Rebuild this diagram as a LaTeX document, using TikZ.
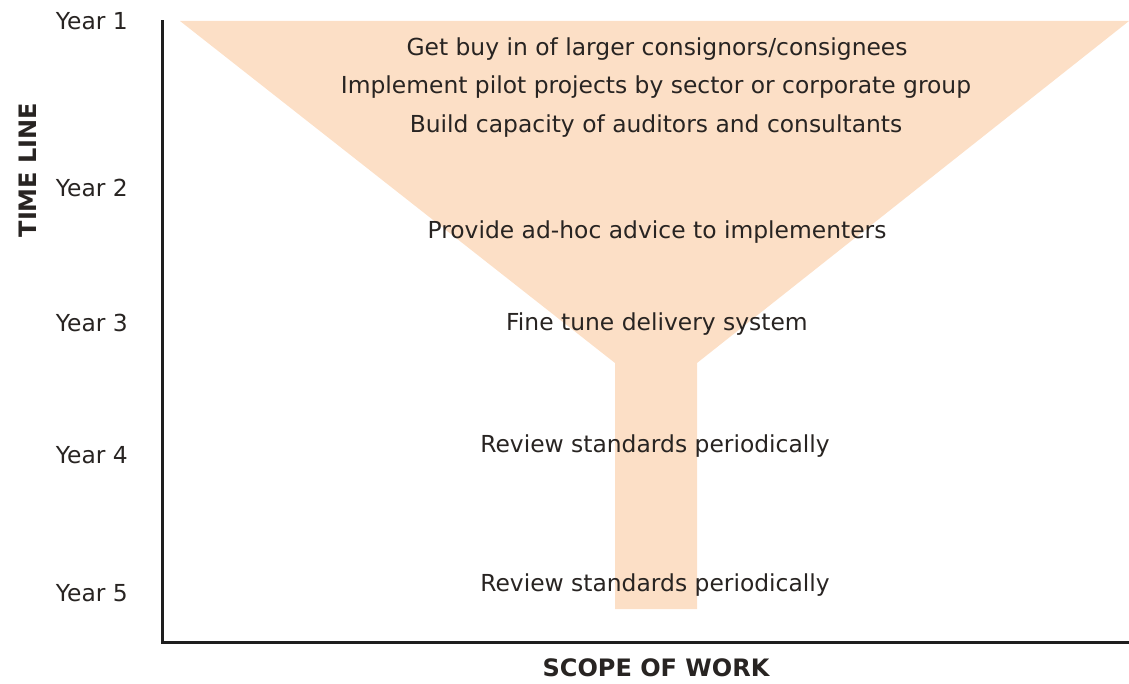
\documentclass[tikz,border=0pt]{standalone}
\usepackage{fontspec}
\setmainfont{DejaVu Sans}
\definecolor{funnel}{RGB}{252,223,198}
\definecolor{txt}{RGB}{40,36,34}
\definecolor{axis}{RGB}{30,30,30}
\begin{document}
\begin{tikzpicture}[x=1pt,y=-1pt,
  lbl/.style={inner sep=0pt,text=txt,font=\fontsize{23.4}{27}\selectfont},
  yearlbl/.style={lbl,anchor=east},
  axlbl/.style={inner sep=0pt,text=txt,font=\fontsize{24}{28}\selectfont\bfseries},
  axisline/.style={draw=axis,line width=3pt,line cap=rect}]
\useasboundingbox (0,0) rectangle (1129,684);
% funnel
\fill[funnel] (180,21) -- (1129,21) -- (697,363) -- (697,609) -- (615,609) -- (615,363) -- cycle;
% axes
\coordinate (top) at (162,22);
\coordinate (origin) at (162,642);
\coordinate (right) at (1129,642);
\draw[axisline] (top) -- (origin) -- (right);
% year labels
\node[yearlbl] (y1) at (128,21) {Year 1};
\node[yearlbl] (y2) at (128,188) {Year 2};
\node[yearlbl] (y3) at (128,323) {Year 3};
\node[yearlbl] (y4) at (128,455) {Year 4};
\node[yearlbl] (y5) at (128,593) {Year 5};
% axis titles
\node[axlbl,rotate=90] (tl) at (28,170) {TIME LINE};
\node[axlbl] (sw) at (656,668) {SCOPE OF WORK};
% activities
\node[lbl] (a1) at (657,49) {Get buy in of larger consignors/consignees};
\node[lbl] (a2) at (656,87) {Implement pilot projects by sector or corporate group};
\node[lbl] (a3) at (656,126) {Build capacity of auditors and consultants};
\node[lbl] (a4) at (657,232) {Provide ad-hoc advice to implementers};
\node[lbl] (a5) at (657,324) {Fine tune delivery system};
\node[lbl] (a6) at (655,446) {Review standards periodically};
\node[lbl] (a7) at (655,585) {Review standards periodically};
\end{tikzpicture}
\end{document}
